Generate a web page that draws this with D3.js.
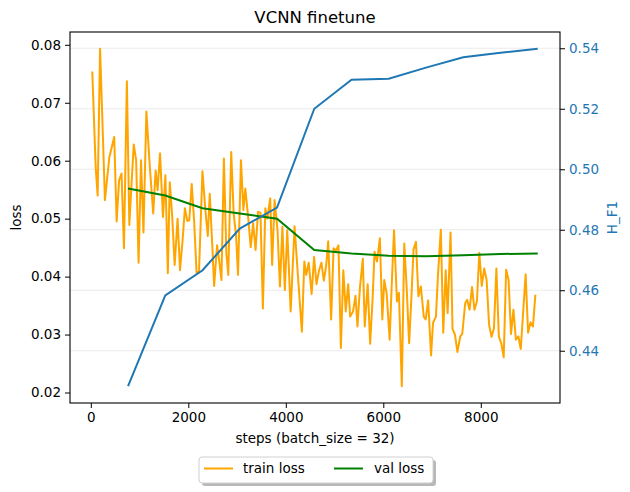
<!DOCTYPE html>
<html>
<head>
<meta charset="utf-8">
<script src="https://cdn.jsdelivr.net/npm/d3@7"></script>
<style>
  body { margin: 0; background: #fff; }
  svg text { font-family: "DejaVu Sans", sans-serif; }
</style>
</head>
<body>
<div id="chart"></div>
<script>
// DATA
var trainSteps = [30,100,140,190,290,380,480,530,580,630,
  680,740,790,880,930,980,1030,1080,1140,1210,
  1280,1330,1370,1420,1480,1530,1580,1620,1670,1720,
  1780,1830,1880,1930,1980,2020,2070,2120,2170,2220,
  2290,2350,2400,2440,2490,2530,2590,2630,2680,2730,
  2780,2820,2880,2930,2980,3020,3080,3130,3170,3230,
  3280,3330,3380,3430,3480,3530,3580,3620,3680,3720,
  3770,3830,3880,3930,3980,4030,4100,4180,4250,4330,
  4380,4420,4470,4530,4580,4630,4680,4730,4780,4830,
  4870,4930,4980,5030,5080,5130,5180,5230,5280,5320,
  5380,5430,5470,5520,5580,5620,5680,5730,5780,5820,
  5870,5930,5980,6020,6070,6130,6170,6220,6280,6320,
  6380,6430,6480,6530,6580,6620,6670,6720,6770,6830,
  6870,6920,6980,7020,7080,7120,7180,7230,7280,7320,
  7380,7420,7470,7520,7580,7620,7680,7720,7770,7820,
  7870,7920,7970,8020,8070,8120,8170,8220,8270,8320,
  8370,8420,8470,8520,8570,8620,8670,8720,8770,8820,
  8870,8920,8970,9020,9070,9120];

var trainLoss = [0.0754,0.0589,0.0540,0.0793,0.0532,0.0606,0.0641,0.0495,0.0566,0.0578,
  0.0449,0.0737,0.0489,0.0628,0.0601,0.0424,0.0601,0.0476,0.0685,0.0590,
  0.0509,0.0583,0.0549,0.0613,0.0503,0.0575,0.0406,0.0563,0.0503,0.0420,
  0.0500,0.0411,0.0460,0.0518,0.0496,0.0497,0.0560,0.0495,0.0406,0.0410,
  0.0582,0.0515,0.0470,0.0543,0.0457,0.0384,0.0454,0.0430,0.0394,0.0604,
  0.0441,0.0403,0.0615,0.0510,0.0470,0.0403,0.0601,0.0515,0.0552,0.0500,
  0.0451,0.0492,0.0446,0.0512,0.0510,0.0345,0.0518,0.0500,0.0535,0.0420,
  0.0532,0.0480,0.0383,0.0486,0.0377,0.0480,0.0340,0.0487,0.0400,0.0305,
  0.0426,0.0403,0.0424,0.0370,0.0434,0.0387,0.0410,0.0424,0.0393,0.0420,
  0.0461,0.0326,0.0449,0.0445,0.0454,0.0277,0.0411,0.0340,0.0387,0.0331,
  0.0340,0.0367,0.0314,0.0380,0.0431,0.0314,0.0387,0.0284,0.0360,0.0443,
  0.0426,0.0466,0.0326,0.0394,0.0370,0.0291,0.0380,0.0480,0.0357,0.0372,
  0.0211,0.0457,0.0380,0.0285,0.0370,0.0447,0.0460,0.0366,0.0383,0.0331,
  0.0326,0.0359,0.0264,0.0320,0.0331,0.0400,0.0481,0.0303,0.0411,0.0337,
  0.0476,0.0310,0.0300,0.0270,0.0297,0.0301,0.0354,0.0360,0.0343,0.0382,
  0.0343,0.0357,0.0441,0.0384,0.0414,0.0394,0.0317,0.0296,0.0311,0.0414,
  0.0297,0.0285,0.0261,0.0412,0.0394,0.0301,0.0343,0.0291,0.0297,0.0275,
  0.0340,0.0404,0.0303,0.0321,0.0314,0.0369];

var valSteps = [764,1528,2292,3056,3820,4584,5348,6112,6876,7640,8404,9168];
var valLoss = [0.0552,0.0540,0.0518,0.0509,0.0500,0.0446,0.0440,0.0436,0.0435,0.0437,0.0439,0.0440];
var hF1 = [0.4283,0.4583,0.4666,0.4804,0.4873,0.5200,0.5296,0.5299,0.5336,0.5370,0.5385,0.5398];

var xTicks = [0,2000,4000,6000,8000];
var lossTicks = [0.02,0.03,0.04,0.05,0.06,0.07,0.08];
var f1Ticks = [0.44,0.46,0.48,0.50,0.52,0.54];

// SIZES
var svgWidth = 630;
var svgHeight = 492;
var margin = { top: 32, right: 70, bottom: 89, left: 70 };
var width = svgWidth - margin.left - margin.right;
var height = svgHeight - margin.top - margin.bottom;

var blue = "#1f77b4";

var svg = d3.select("#chart")
    .append("svg")
    .attr("width", svgWidth)
    .attr("height", svgHeight);

var chartGroup = svg.append("g")
    .attr("transform", `translate(${margin.left}, ${margin.top})`);

// matplotlib style 5% padding
function padded(ext) {
    var p = (ext[1] - ext[0]) * 0.05;
    return [ext[0] - p, ext[1] + p];
}

var train = d3.zip(trainSteps, trainLoss);
var val = d3.zip(valSteps, valLoss);
var f1 = d3.zip(valSteps, hF1);

var xScale = d3.scaleLinear()
    .domain(padded(d3.extent(trainSteps.concat(valSteps))))
    .range([0, width]);

var yLoss = d3.scaleLinear()
    .domain(padded(d3.extent(trainLoss.concat(valLoss))))
    .range([height, 0]);

var yF1 = d3.scaleLinear()
    .domain(padded(d3.extent(hF1)))
    .range([height, 0]);

// GRID (from right axis)
chartGroup.append("g")
    .selectAll("line")
    .data(f1Ticks)
    .enter()
    .append("line")
    .attr("x1", 0)
    .attr("x2", width)
    .attr("y1", d => yF1(d))
    .attr("y2", d => yF1(d))
    .attr("stroke", "#ebebeb")
    .attr("stroke-width", 1.2);

// LINES
var line = d3.line()
    .x(d => xScale(d[0]))
    .y(d => yLoss(d[1]));

var lineF1 = d3.line()
    .x(d => xScale(d[0]))
    .y(d => yF1(d[1]));

chartGroup.append("path")
    .datum(train)
    .attr("d", line)
    .attr("fill", "none")
    .attr("stroke", "orange")
    .attr("stroke-width", 2)
    .attr("stroke-linejoin", "round");

chartGroup.append("path")
    .datum(val)
    .attr("d", line)
    .attr("fill", "none")
    .attr("stroke", "green")
    .attr("stroke-width", 2);

chartGroup.append("path")
    .datum(f1)
    .attr("d", lineF1)
    .attr("fill", "none")
    .attr("stroke", blue)
    .attr("stroke-width", 2);

// AXES
var xAxis = d3.axisBottom(xScale).tickValues(xTicks).tickSize(5).tickPadding(4)
    .tickFormat(d3.format("d"));
var yAxis = d3.axisLeft(yLoss).tickValues(lossTicks).tickSize(5).tickPadding(4)
    .tickFormat(d3.format(".2f"));
var rAxis = d3.axisRight(yF1).tickValues(f1Ticks).tickSize(5).tickPadding(4)
    .tickFormat(d3.format(".2f"));

var gx = chartGroup.append("g")
    .attr("transform", `translate(0, ${height})`)
    .call(xAxis);
var gy = chartGroup.append("g")
    .call(yAxis);
var gr = chartGroup.append("g")
    .attr("transform", `translate(${width}, 0)`)
    .call(rAxis);

[gx, gy, gr].forEach(function(g) {
    g.select(".domain").remove();
    g.selectAll("text").attr("font-size", "13.5px").attr("fill", "#000");
    g.selectAll("line").attr("stroke", "#000");
});
gr.selectAll("text").attr("fill", blue);

// frame
chartGroup.append("rect")
    .attr("width", width)
    .attr("height", height)
    .attr("fill", "none")
    .attr("stroke", "#000")
    .attr("stroke-width", 1.1);

// TITLE + LABELS
svg.append("text")
    .attr("x", margin.left + width / 2)
    .attr("y", 23)
    .attr("text-anchor", "middle")
    .attr("font-size", "16.5px")
    .text("VCNN finetune");

svg.append("text")
    .attr("x", margin.left + width / 2)
    .attr("y", 443)
    .attr("text-anchor", "middle")
    .attr("font-size", "13.5px")
    .text("steps (batch_size = 32)");

svg.append("text")
    .attr("transform", `translate(21, ${margin.top + height / 2}) rotate(-90)`)
    .attr("text-anchor", "middle")
    .attr("font-size", "13.5px")
    .text("loss");

svg.append("text")
    .attr("transform", `translate(617, ${margin.top + height / 2}) rotate(-90)`)
    .attr("text-anchor", "middle")
    .attr("font-size", "13.5px")
    .attr("fill", blue)
    .text("H_F1");

// LEGEND
var legend = svg.append("g").attr("transform", "translate(199, 457)");
legend.append("rect")
    .attr("x", 3).attr("y", 3)
    .attr("width", 234).attr("height", 26)
    .attr("rx", 3)
    .attr("fill", "#888")
    .attr("opacity", 0.6);
legend.append("rect")
    .attr("width", 234).attr("height", 26)
    .attr("rx", 3)
    .attr("fill", "#fff")
    .attr("stroke", "#d0d0d0");

var legendItems = [
    { label: "train loss", color: "orange", x: 5, tx: 44 },
    { label: "val loss", color: "green", x: 135, tx: 175 }
];
legendItems.forEach(function(it) {
    legend.append("line")
        .attr("x1", it.x).attr("x2", it.x + 29)
        .attr("y1", 11.5).attr("y2", 11.5)
        .attr("stroke", it.color)
        .attr("stroke-width", 2);
    legend.append("text")
        .attr("x", it.tx)
        .attr("y", 16)
        .attr("font-size", "13.5px")
        .text(it.label);
});
</script>
</body>
</html>
